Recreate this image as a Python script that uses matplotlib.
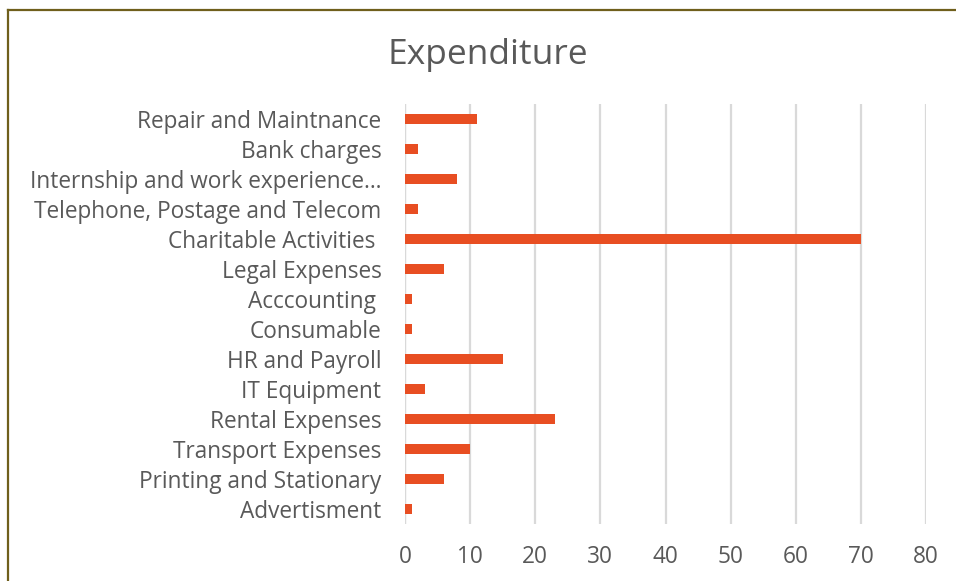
import matplotlib.pyplot as plt
from matplotlib.lines import Line2D

categories = ['Advertisment', 'Printing and Stationary', 'Transport Expenses', 'Rental Expenses',
              'IT Equipment', 'HR and Payroll', 'Consumable', 'Acccounting ', 'Legal Expenses',
              'Charitable Activities ', 'Telephone, Postage and Telecom',
              'Internship and work experience…', 'Bank charges', 'Repair and Maintnance']
values = [1, 6, 10, 23, 3, 15, 1, 1, 6, 70, 2, 8, 2, 11]
xticks = [0, 10, 20, 30, 40, 50, 60, 70, 80]

plt.rcParams['font.family'] = ['Open Sans', 'DejaVu Sans']
grey = '#595959'

fig = plt.figure(figsize=(9.56, 5.81), dpi=100)
ax = fig.add_axes([405/956, 1 - 524/581, (926 - 405)/956, 420/581])

ypos = range(len(categories))
ax.barh(ypos, values, height=0.34, color='#E84E22', zorder=3)
ax.set_xlim(0, 80)
ax.set_ylim(-0.5, len(categories) - 0.5)
ax.set_xticks(xticks)
ax.set_yticks(list(ypos))
ax.set_yticklabels(categories)
ax.grid(axis='x', color='#d9d9d9', linewidth=1.6, zorder=0)
ax.axvline(0, color='#d9d9d9', linewidth=1.6, zorder=1)
for s in ax.spines.values():
    s.set_visible(False)
ax.tick_params(axis='both', length=0, labelsize=16.3, colors=grey)
ax.tick_params(axis='y', pad=17)
ax.tick_params(axis='x', pad=15)

fig.text(488/956, 1 - 55/581, 'Expenditure', ha='center', va='center', fontsize=25.5, color=grey)

# chart frame
fc = '#6f5f1c'
fig.add_artist(Line2D([8/956, 1], [1 - 9.5/581] * 2, color=fc, linewidth=1.6, transform=fig.transFigure))
fig.add_artist(Line2D([8/956] * 2, [0, 1 - 9.5/581], color=fc, linewidth=1.6, transform=fig.transFigure))

fig.savefig('out.png', dpi=100)
